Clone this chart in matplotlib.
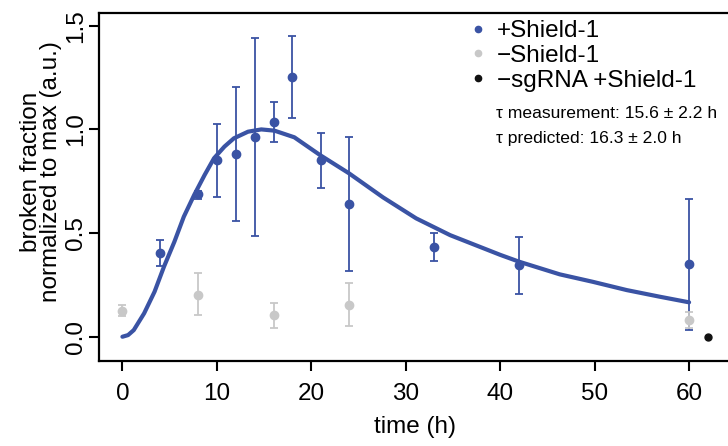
import matplotlib
matplotlib.use("Agg")
import matplotlib.pyplot as plt
from matplotlib.lines import Line2D

# values
t_plus = [4, 8, 10, 12, 14, 16, 18, 21, 24, 33, 42, 60]
y_plus = [0.405, 0.688, 0.851, 0.880, 0.963, 1.034, 1.251, 0.851, 0.640, 0.431, 0.344, 0.349]
hi_plus = [0.468, 0.704, 1.026, 1.205, 1.439, 1.131, 1.452, 0.983, 0.965, 0.499, 0.481, 0.663]
lo_plus = [0.343, 0.664, 0.675, 0.557, 0.487, 0.939, 1.054, 0.719, 0.318, 0.365, 0.207, 0.034]

t_minus = [0, 8, 16, 24, 60]
y_minus = [0.125, 0.203, 0.103, 0.154, 0.081]
hi_minus = [0.153, 0.306, 0.164, 0.259, 0.118]
lo_minus = [0.100, 0.103, 0.041, 0.052, 0.044]

t_nosg = [62]
y_nosg = [0.0]

t_fit = [0, 0.6, 1.2, 2.3, 3.4, 4.4, 5.5, 6.5, 7.6, 8.7, 9.7, 10.8, 11.8, 13.3, 14.7,
         16.1, 18.2, 20.9, 24, 27.6, 31.1, 34.7, 40, 42, 46.3, 49.8, 53.4, 56.9, 60]
y_fit = [0, 0.008, 0.032, 0.113, 0.217, 0.338, 0.458, 0.579, 0.684, 0.78, 0.861, 0.917,
         0.957, 0.989, 1.0, 0.994, 0.962, 0.877, 0.788, 0.672, 0.571, 0.49, 0.395, 0.362,
         0.301, 0.265, 0.225, 0.193, 0.166]

labels = ["+Shield-1", "\u2212Shield-1", "\u2212sgRNA +Shield-1"]
colors = ["#3a53a4", "#c8c8c8", "#111111"]
tau_text = ["\u03c4 measurement: 15.6 \u00b1 2.2 h", "\u03c4 predicted: 16.3 \u00b1 2.0 h"]

plt.rcParams["font.family"] = ["Liberation Sans", "DejaVu Sans"]

W, H = 728, 446
fig = plt.figure(figsize=(W / 100, H / 100), dpi=100)
ax = fig.add_axes([99 / W, 85 / H, (731.4 - 99) / W, (433 - 85) / H])

ax.plot(t_fit, y_fit, color=colors[0], lw=3, solid_capstyle="round",
        solid_joinstyle="round", zorder=2)

err_p = [[y - l for y, l in zip(y_plus, lo_plus)], [h - y for y, h in zip(y_plus, hi_plus)]]
ax.errorbar(t_plus, y_plus, yerr=err_p, fmt="o", color=colors[0], ms=6,
            elinewidth=1.3, capsize=2.8, capthick=1.3, zorder=3)
err_m = [[y - l for y, l in zip(y_minus, lo_minus)], [h - y for y, h in zip(y_minus, hi_minus)]]
ax.errorbar(t_minus, y_minus, yerr=err_m, fmt="o", color=colors[1], ms=6,
            elinewidth=1.3, capsize=2.8, capthick=1.3, zorder=4)
ax.plot(t_nosg, y_nosg, "o", color=colors[2], ms=5, clip_on=False, zorder=4)

ax.set_xlim(-2.48, 64.48)
ax.set_ylim(-0.117, 1.5615)
ax.set_xticks([0, 10, 20, 30, 40, 50, 60])
ax.set_yticks([0.0, 0.5, 1.0, 1.5])
ax.set_yticklabels(["0.0", "0.5", "1.0", "1.5"], rotation=90, va="center")
ax.tick_params(labelsize=17.5, width=1.5, length=7)
ax.tick_params(axis="x", pad=8.5)
ax.tick_params(axis="y", pad=1.5)
for s in ax.spines.values():
    s.set_linewidth(1.6)

ax.set_xlabel("time (h)", fontsize=17.5, labelpad=8)
fig.text(41 / W, 1 - 172 / H, "broken fraction\nnormalized to max (a.u.)",
         rotation=90, ha="center", va="center", fontsize=17.5, linespacing=0.83)

handles = [Line2D([], [], ls="", marker="o", ms=4.5, color=c) for c in colors]
leg = fig.legend(handles, labels, loc="upper left", bbox_to_anchor=(468 / W, 1 - 20 / H),
                 frameon=False, fontsize=17.5, handlelength=0.8, handletextpad=0.4,
                 labelspacing=0.12, borderpad=0, borderaxespad=0)

for i, txt in enumerate(tau_text):
    fig.text(496 / W, 1 - (113 + 25 * i) / H, txt, ha="left", va="center", fontsize=12.6)

fig.savefig("out.png", dpi=100)
